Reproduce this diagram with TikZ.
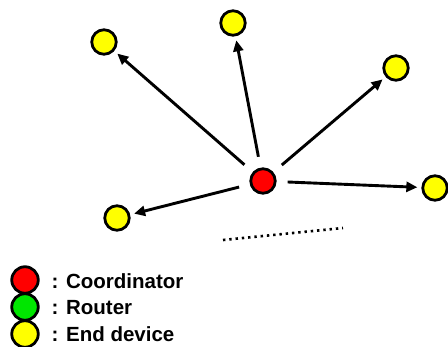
\documentclass[tikz,border=0pt]{standalone}
\usepackage{fontspec}
\setmainfont{Liberation Sans}
\usetikzlibrary{arrows.meta}
\definecolor{cred}{RGB}{255,0,0}
\definecolor{cgreen}{RGB}{0,230,0}
\definecolor{cyellow}{RGB}{255,255,0}
\begin{document}
\begin{tikzpicture}[x=1pt,y=-1pt,
  dev/.style={circle,draw=black,line width=2.8pt,minimum size=24.5pt,inner sep=0pt},
  legdev/.style={dev,minimum size=26.5pt},
  link/.style={line width=2.9pt,-{Triangle[length=11pt,width=10pt]},shorten <=11pt,shorten >=4pt},
  legtext/.style={anchor=west,font=\fontsize{20.5pt}{23pt}\selectfont\bfseries,inner sep=0pt}]
\useasboundingbox (0,0) rectangle (448,347);
\node[dev,fill=cred] (c) at (263,181) {};
\node[dev,fill=cyellow] (e1) at (104,42) {};
\node[dev,fill=cyellow] (e2) at (233,23) {};
\node[dev,fill=cyellow] (e3) at (396,68) {};
\node[dev,fill=cyellow] (e4) at (435,188) {};
\node[dev,fill=cyellow] (e5) at (117,218) {};
\foreach \n in {e1,e2,e3,e4,e5} \draw[link] (c) -- (\n);
\coordinate (d1) at (223,240);
\coordinate (d2) at (343,228);
\draw[line width=2.6pt,dash pattern=on 2.4pt off 3.9pt] (d1) -- (d2);
\node[legdev,fill=cred] (l1) at (25,280) {};
\node[legdev,fill=cgreen] (l2) at (25,307) {};
\node[legdev,fill=cyellow] (l3) at (25,334) {};
\node[legtext] (t1) at (51.5,281) {: Coordinator};
\node[legtext] (t2) at (51.5,308) {: Router};
\node[legtext] (t3) at (51.5,334) {: End device};
\end{tikzpicture}
\end{document}
